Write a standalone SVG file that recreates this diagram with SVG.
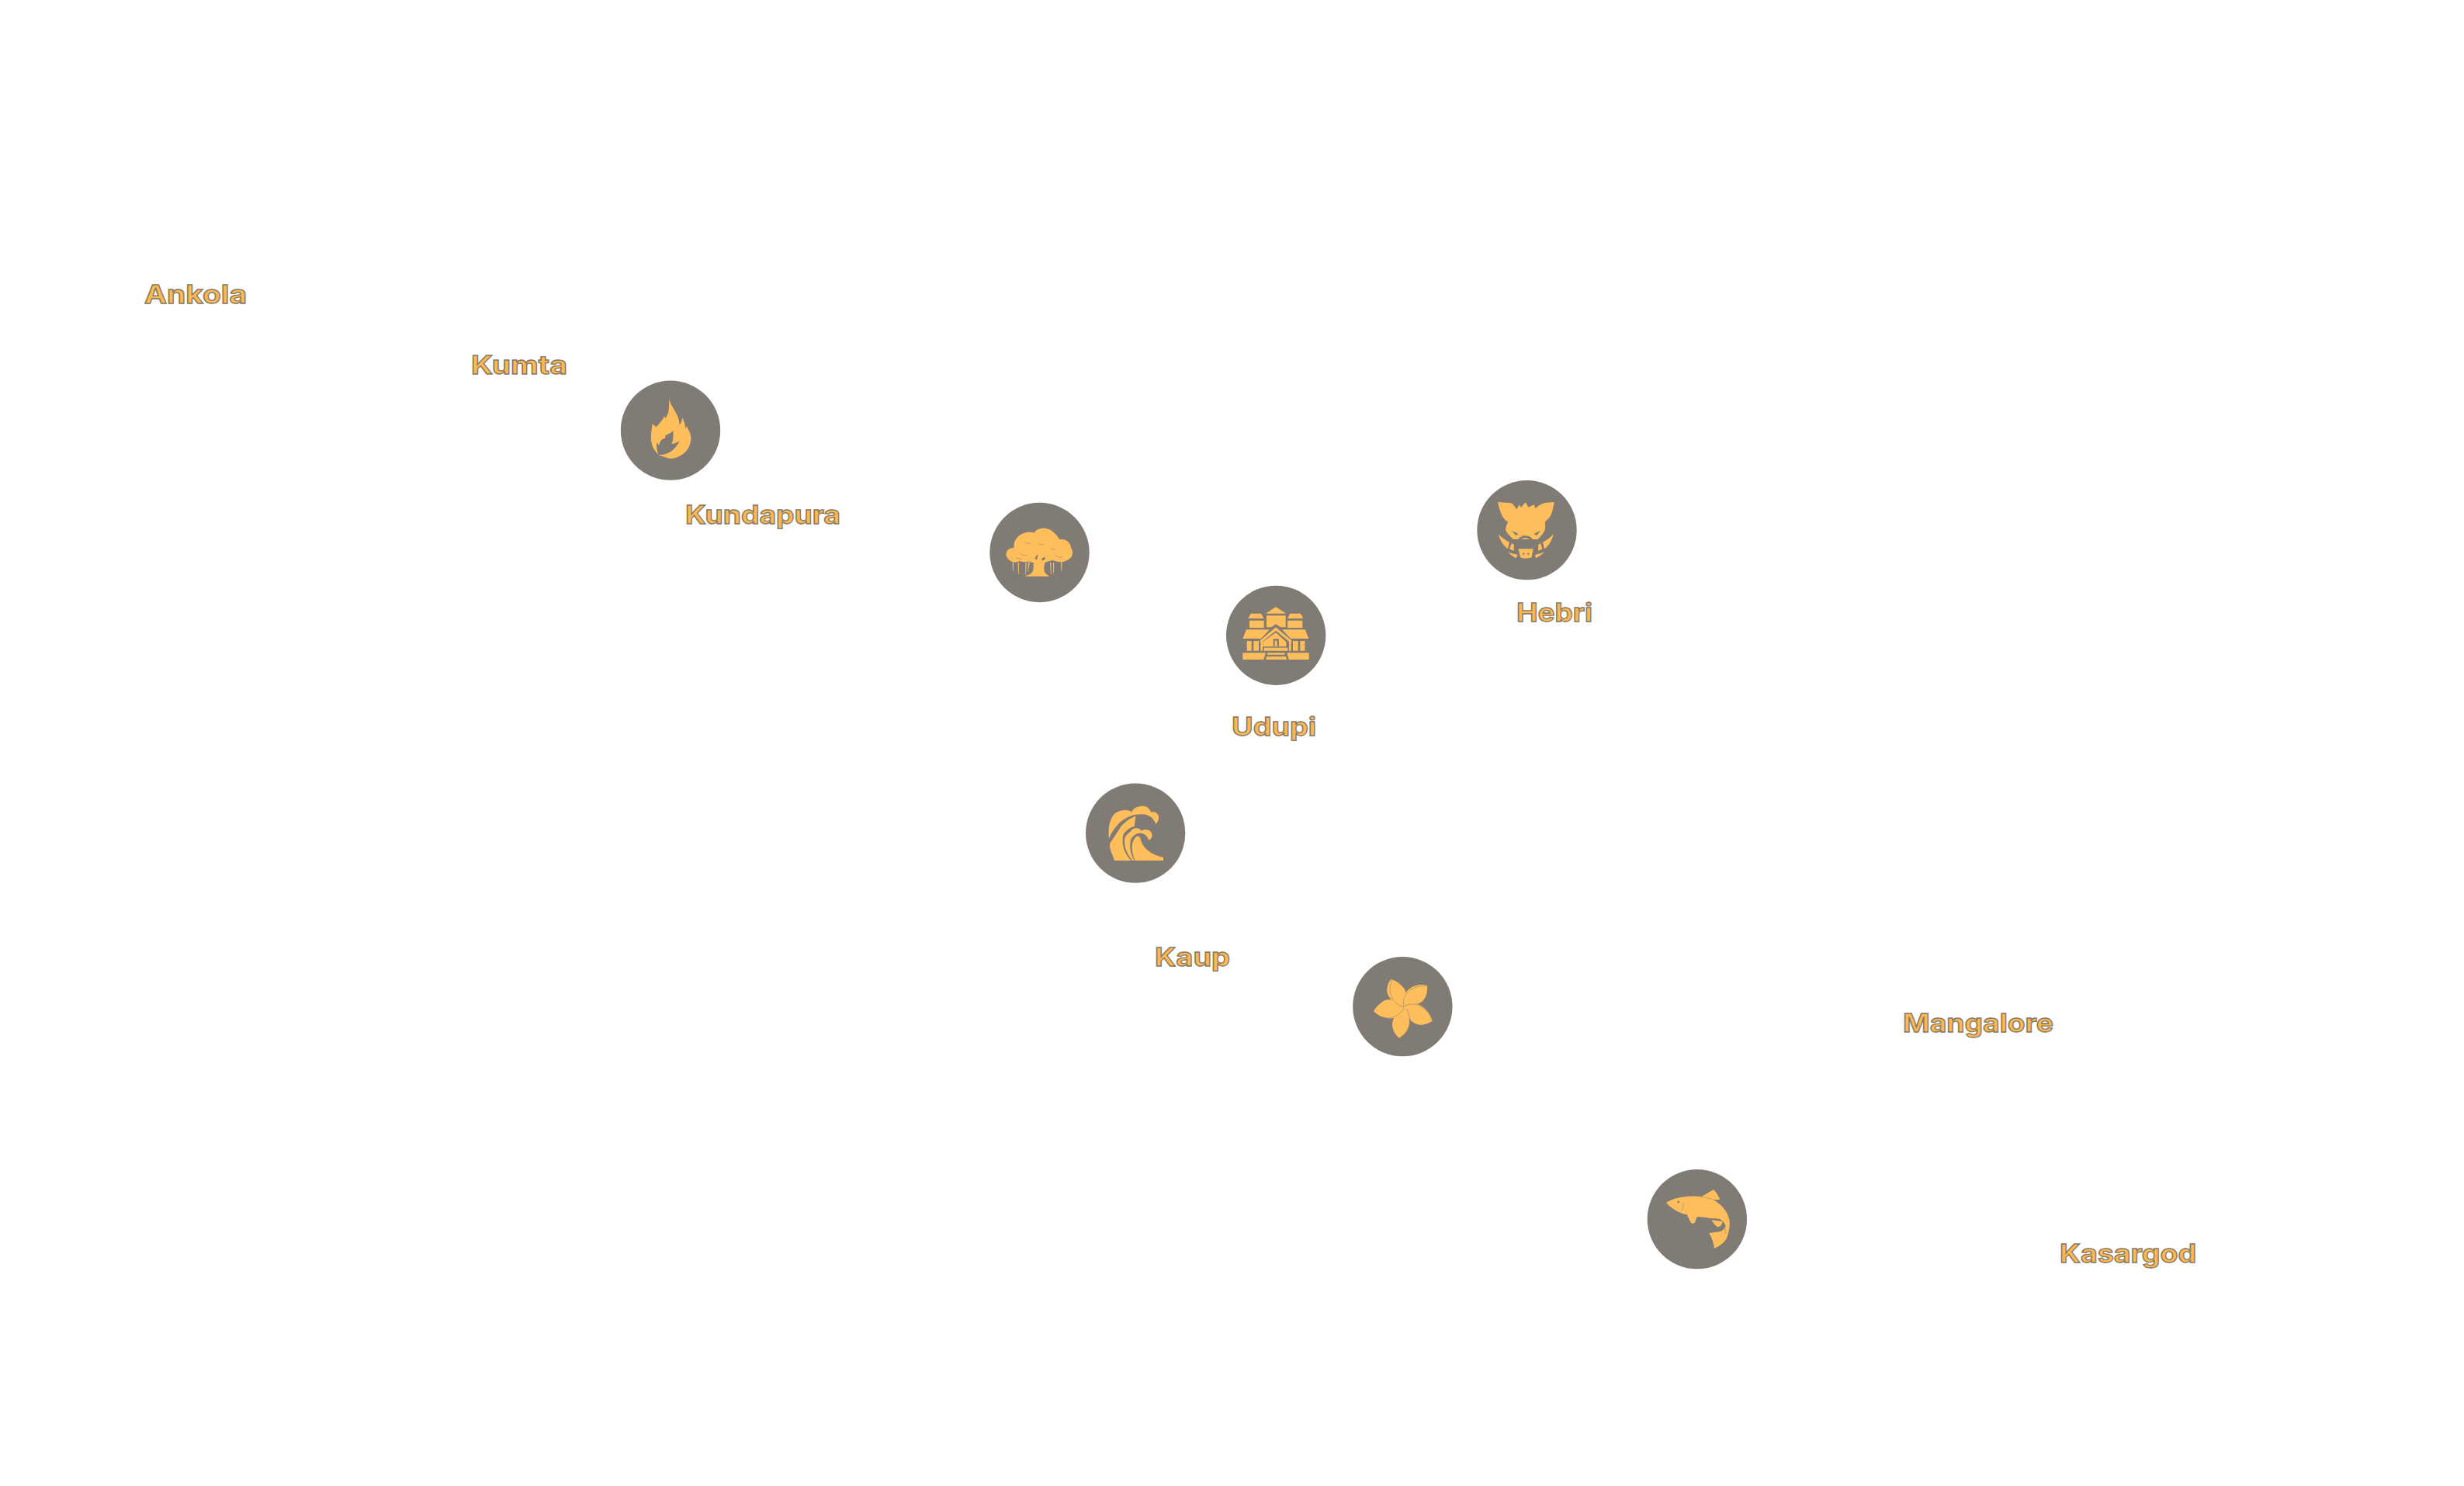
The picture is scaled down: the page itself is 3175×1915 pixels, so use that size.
<svg xmlns="http://www.w3.org/2000/svg" width="3175" height="1915" viewBox="0 0 3175 1915">
<style>
.bg{fill:#fff}
.disc{fill:#807b74}
.ic{fill:#ffbe5c}
.cut{fill:#807b74}
.ln{fill:none;stroke:#807b74;stroke-width:3}
.thin{stroke-width:1.500}
.lbl{font-family:Inter,"Open Sans","Liberation Sans",sans-serif;font-weight:700;font-size:33px;fill:#ffb84f;stroke:#857a68;stroke-width:1.300px}
</style>
<rect class="bg" width="3175" height="1915"/>
<g id="connectors"/>
<g id="node-fire" transform="translate(780 470) scale(.33333)">
<circle class="disc" cx="252" cy="254" r="192.500"/>
<path class="ic" d="M247 132C245 160 250 185 232 207L228 199C222 215 208 228 197 241L181 229C182 245 175 262 177 290C179 320 195 340 212 352L245 362C290 366 332 330 331 282C330 262 320 252 314 238L309 247C309 232 304 216 298 205C296 218 292 226 287 233C285 185 252 165 247 132Z"/>
<path class="cut" d="M262 255C248 268 236 272 232 272C232 280 233 284 228 286C220 284 212 295 208 312L199 300C197 318 200 336 206 348C225 350 262 345 287 295C275 303 265 306 257 306C263 290 263 270 262 255Z"/>
</g>
<g id="node-banyan" transform="translate(1260 630) scale(.33333)">
<circle class="disc" cx="238.500" cy="246" r="192.500"/>
<path class="ic" d="M109 255C109 238 122 228 140 228C136 205 150 180 180 170C195 166 208 167 218 170C228 150 270 145 292 167C300 175 312 185 315 196C335 190 360 205 360 228C372 245 366 268 345 276C330 286 305 283 288 276L260 284C256 295 254 310 258 320C262 330 270 333 278 338L180 338C195 333 208 328 213 318C216 305 216 295 214 285C195 283 175 285 160 280C140 290 115 280 109 255Z"/>
<path class="ic" d="M134 284h4l-1 36h-2zM155 285h4l-1 45h-2zM184 285h4l-2 48h-2zM195 285h5l-5 35h-2zM279 285h4l1 45h-2zM291 285h4l-1 40h-2zM321 283h4l0 38h-2z"/>
<path class="ln thin" d="M181 203q10 12 22 8M235 213q12 4 22 1M280 228q10 10 20 5M300 258q14 12 28 6M163 248q14 16 28 7M147 266q12 4 22 6M190 283l18-3"/>
<path class="cut" d="M220 270l8-14 5 2-6 16zM246 270l12-7 3 7-10 8zM210 285l7 1-1 4-6-1z"/>
</g>
<g id="node-boar" transform="translate(1900 600) scale(.33333)">
<circle class="disc" cx="202.500" cy="249.500" r="192.500"/>
<path class="ic" d="M90 141L142 145C150 150 156 158 162 170L172 152L180 161L197 142L208 161L230 151L236 166C245 155 260 145 280 143L308 141C304 165 300 195 280 210L272 218C275 235 274 250 265 262C257 272 250 280 245 285L150 285C138 275 126 262 120 250C120 238 124 228 130 218C113 210 100 190 90 141Z"/>
<path class="cut" d="M143 251L170 264L160 270ZM256 251L229 264L240 270ZM168 287C175 270 210 262 226 287L220 290C210 276 182 276 175 290Z"/>
<path class="ic" d="M170 322L227 322L221 354C210 360 185 360 177 354Z"/>
<circle class="cut" cx="190" cy="341" r="3.500"/><circle class="cut" cx="208" cy="341" r="3.500"/>
<path class="ic" d="M93 264C105 280 120 288 135 296L129 322C112 310 98 290 93 264ZM144 300L152 305L152 330L135 322ZM305 264C293 280 278 288 264 296L270 322C287 310 300 290 305 264ZM255 300L247 305L246 330L262 322ZM128 334C140 340 155 342 167 345L160 358C150 352 138 345 128 334ZM270 334C258 340 243 342 233 345L238 358C248 352 260 345 270 334Z"/>
</g>
<g id="node-mansion" transform="translate(1570 740) scale(.33333)">
<circle class="disc" cx="222.500" cy="236.500" r="192.500"/>
<path class="ic" d="M183 152L222 126L262 152ZM186 160H260V205H240L222 193L205 205H186ZM115 171L125 152H165L176 171ZM120 179H176V207H120ZM268 171L276 152H318L328 171ZM267 179H325V207H267ZM108 214H198L165 249H94ZM246 214H335L349 249H279ZM222 205L285 258L277 264L222 218L167 264L159 258ZM222 226L262 262V280H172V262ZM110 258H128V296H110ZM136 258H156V296H136ZM163 258H171V296H163ZM273 258H281V296H273ZM288 258H308V296H288ZM316 258H334V296H316ZM94 304H183L175 330H94ZM265 304H350V330H272ZM190 304H258L256 311H188ZM187 318H261L264 330H183ZM176 284H268V296H176Z"/>
<path class="cut" d="M212 250h22v28h-22z"/>
<path class="ic" d="M218 257h9v21h-9z"/>
</g>
<g id="node-wave" transform="translate(1390 1000) scale(.33333)">
<circle class="disc" cx="219.500" cy="221" r="192.500"/>
<path class="ic" d="M117 243C113 205 118 165 140 145C160 130 195 128 205 140C208 125 235 112 258 118C270 122 275 132 280 140C298 135 312 150 309 165C307 178 300 182 298 187C295 175 285 158 262 150C235 143 195 150 165 175C142 195 125 220 117 243Z"/>
<path class="ic" d="M120 262L160 200C175 178 200 163 220 155L215 195C200 198 182 210 172 228C165 262 175 300 203 327L138 327C132 305 118 285 120 262Z"/>
<path class="ic" d="M178 240C185 225 195 218 200 215C208 198 232 198 243 212C252 205 272 205 281 218C288 232 280 245 270 248C268 236 258 226 245 222C222 218 205 232 200 252C195 285 205 310 215 327L208 327C188 305 172 270 178 240Z"/>
<path class="ic" d="M218 327C205 300 202 265 212 248C220 232 232 226 238 240C245 280 285 308 327 314V327Z"/>
</g>
<g id="node-flower" transform="translate(1735 1225) scale(.33333)">
<circle class="disc" cx="217" cy="216.500" r="192.500"/>
<path class="ic" d="M223 218C230 200 236 175 225 150C212 130 190 115 172 111C160 125 155 145 157 160C162 190 195 210 223 218Z"/>
<path class="ic" d="M223 218C235 210 265 210 285 202C305 190 315 165 312 135C285 128 255 135 235 155C218 175 218 200 223 218Z"/>
<path class="ic" d="M223 218C235 255 250 285 285 287C305 287 320 280 332 272C325 245 300 210 265 205C250 203 235 210 223 218Z"/>
<path class="ic" d="M223 218C200 235 178 260 177 285C178 310 192 330 205 338C235 320 250 290 242 260C238 245 230 230 223 218Z"/>
<path class="ic" d="M223 218C205 190 175 188 155 190C130 200 113 220 105 235C125 258 175 275 205 250C215 240 220 228 223 218Z"/>
<path class="ln thin" d="M222 218C190 212 150 170 177 111M222 216C212 175 245 135 310 136M226 213C265 195 315 220 330 268M232 225C255 265 245 310 208 335M222 222C200 265 140 275 107 236"/>
</g>
<g id="node-fish" transform="translate(2115 1500) scale(.33333)">
<circle class="disc" cx="215.500" cy="213.500" r="192.500"/>
<path class="ic" d="M96 150C110 138 150 126 185 125C205 124 222 125 232 127L278 100C288 105 298 125 304 137L290 139L278 138C305 155 330 175 340 215C345 240 335 280 325 295C315 310 295 322 282 326C280 305 272 285 262 267L302 262C316 258 322 248 326 240C322 226 312 218 304 213C285 213 250 208 232 205L215 204L207 226C203 232 195 232 190 225L176 195C160 195 145 188 130 178C115 168 105 160 96 150Z"/>
<path class="ic" d="M272 217L314 222C312 234 305 243 296 244C286 240 277 228 272 217Z"/>
<circle class="cut" cx="143" cy="147" r="4"/>
<path class="ln thin" d="M162 150C164 165 158 180 149 188M232 127C250 130 265 134 280 138M316 222C322 240 325 255 325 272"/>
</g>
<g id="labels">
<text class="lbl" x="186" y="391" textLength="132" lengthAdjust="spacingAndGlyphs">Ankola</text>
<text class="lbl" x="607" y="482" textLength="124" lengthAdjust="spacingAndGlyphs">Kumta</text>
<text class="lbl" x="883" y="675" textLength="200" lengthAdjust="spacingAndGlyphs">Kundapura</text>
<text class="lbl" x="1954" y="801" textLength="98" lengthAdjust="spacingAndGlyphs">Hebri</text>
<text class="lbl" x="1587" y="948" textLength="109" lengthAdjust="spacingAndGlyphs">Udupi</text>
<text class="lbl" x="1488" y="1245" textLength="97" lengthAdjust="spacingAndGlyphs">Kaup</text>
<text class="lbl" x="2452" y="1330" textLength="194" lengthAdjust="spacingAndGlyphs">Mangalore</text>
<text class="lbl" x="2654" y="1627" textLength="176" lengthAdjust="spacingAndGlyphs">Kasargod</text>
</g>
</svg>
